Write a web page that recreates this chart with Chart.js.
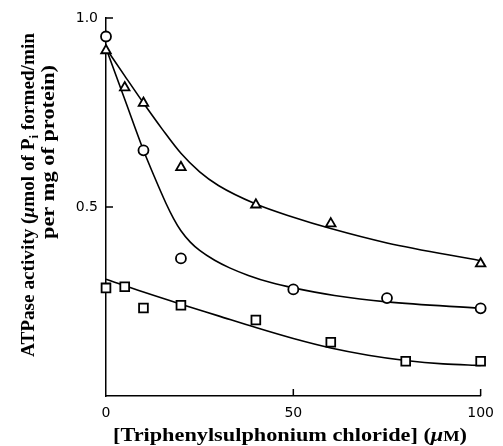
<!DOCTYPE html>
<html>
<head>
<meta charset="utf-8">
<title>ATPase activity vs triphenylsulphonium chloride</title>
<script src="https://cdn.jsdelivr.net/npm/chart.js@4.4.1/dist/chart.umd.min.js"></script>
<style>
  html, body { margin: 0; padding: 0; background: #fff; }
  #chart_canvas { display: block; }
</style>
</head>
<body>
<canvas id="chart_canvas" width="503" height="446"></canvas>
<script>
var triX = [0, 5, 10, 20, 40, 60, 100];
var triY = [0.914, 0.816, 0.775, 0.605, 0.506, 0.456, 0.350];
var circX = [0, 10, 20, 50, 75, 100];
var circY = [0.951, 0.650, 0.364, 0.282, 0.259, 0.232];
var sqX = [0, 5, 10, 20, 40, 60, 80, 100];
var sqY = [0.286, 0.289, 0.233, 0.240, 0.201, 0.142, 0.092, 0.092];

// Fitted curves
var triFitX = [0, 5, 10, 15, 20, 25, 30, 40, 50, 60, 75, 100];
var triFitY = [0.920, 0.847, 0.775, 0.706, 0.642, 0.593, 0.557, 0.508, 0.473, 0.443, 0.405, 0.358];
var circFitX = [0, 5, 10, 13, 16, 18, 20, 22.5, 25, 29, 33, 38, 44, 50, 61, 75, 100];
var circFitY = [0.920, 0.785, 0.650, 0.578, 0.510, 0.470, 0.437, 0.407, 0.385, 0.359, 0.339, 0.319, 0.300, 0.286, 0.266, 0.249, 0.232];
var sqFitX = [0, 10, 20, 30, 40, 50, 60, 70, 80, 90, 100];
var sqFitY = [0.309, 0.275, 0.243, 0.212, 0.181, 0.152, 0.127, 0.108, 0.094, 0.085, 0.081];

// Axis ticks
var xTicks = [0, 50, 100];
var yTicks = [0.5, 1.0];
var xInward = [50, 100];

function pts(xs, ys) {
    return xs.map(function (x, i) { return {x: x, y: ys[i]}; });
}

function markerSet(xs, ys, style, radius) {
    return {
        data: pts(xs, ys),
        showLine: false,
        pointStyle: style,
        pointRadius: radius,
        pointBackgroundColor: '#fff',
        pointBorderColor: '#000',
        pointBorderWidth: 1.8,
        clip: false
    };
}

function curveSet(xs, ys) {
    return {
        data: pts(xs, ys),
        showLine: true,
        pointRadius: 0,
        borderColor: '#000',
        borderWidth: 1.6,
        cubicInterpolationMode: 'monotone',
        clip: false
    };
}

// draw a row of text pieces centred on (0,0), squeezed to a given width
function drawPieces(ctx, pieces, targetWidth) {
    var total = 0;
    pieces.forEach(function (p) {
        ctx.font = p.font;
        p.w = ctx.measureText(p.text).width;
        total += p.w;
    });
    var sx = targetWidth ? targetWidth / total : 1;
    ctx.save();
    ctx.scale(sx, 1);
    var cx = -total / 2;
    pieces.forEach(function (p) {
        ctx.font = p.font;
        ctx.fillText(p.text, cx, p.dy || 0);
        cx += p.w;
    });
    ctx.restore();
}

var serifB = 'bold 18px "Liberation Serif", "DejaVu Serif", serif';
var serifBI = 'italic bold 18px "Liberation Serif", "DejaVu Serif", serif';
var serifSmall = 'bold 12px "Liberation Serif", "DejaVu Serif", serif';
var serifXS = 'bold 14px "Liberation Serif", "DejaVu Serif", serif';

var decorPlugin = {
    id: 'decor',
    afterDraw: function (chart) {
        var ctx = chart.ctx;
        var xs = chart.scales.x, ys = chart.scales.y;
        var area = chart.chartArea;

        // inward tick marks
        ctx.save();
        ctx.strokeStyle = '#000';
        ctx.lineWidth = 1.5;
        ctx.beginPath();
        yTicks.forEach(function (v) {
            var py = ys.getPixelForValue(v);
            ctx.moveTo(area.left, py);
            ctx.lineTo(area.left + 7, py);
        });
        xInward.forEach(function (v) {
            var px = xs.getPixelForValue(v);
            ctx.moveTo(px, area.bottom);
            ctx.lineTo(px, area.bottom - 7);
        });
        ctx.stroke();
        ctx.restore();

        // axis titles
        ctx.save();
        ctx.fillStyle = '#000';
        ctx.textBaseline = 'alphabetic';

        // y title, two lines, rotated
        ctx.save();
        ctx.translate(34, 195);
        ctx.rotate(-Math.PI / 2);
        drawPieces(ctx, [
            {text: 'ATPase activity (', font: serifB},
            {text: '\u03bc', font: serifBI},
            {text: 'mol of P', font: serifB},
            {text: 'i', font: serifSmall, dy: 4},
            {text: ' formed/min', font: serifB}
        ], 324);
        ctx.restore();

        ctx.save();
        ctx.translate(54, 152);
        ctx.rotate(-Math.PI / 2);
        drawPieces(ctx, [
            {text: 'per mg of protein)', font: serifB}
        ], 174);
        ctx.restore();

        // x title
        ctx.save();
        ctx.translate(290, 441);
        drawPieces(ctx, [
            {text: '[Triphenylsulphonium chloride] (', font: serifB},
            {text: '\u03bc', font: serifBI},
            {text: 'M', font: serifXS},
            {text: ')', font: serifB}
        ], 354);
        ctx.restore();

        ctx.restore();
    }
};

var tickFont = {family: '"DejaVu Sans", sans-serif', size: 14};

var ctx = document.getElementById('chart_canvas').getContext('2d');
var chart = new Chart(ctx, {
    type: 'scatter',
    data: {
        datasets: [
            markerSet(triX, triY, 'triangle', 5.5),
            markerSet(circX, circY, 'circle', 5),
            markerSet(sqX, sqY, 'rect', 6.2),
            curveSet(triFitX, triFitY),
            curveSet(circFitX, circFitY),
            curveSet(sqFitX, sqFitY)
        ]
    },
    options: {
        responsive: false,
        animation: false,
        layout: {padding: {top: 18, right: 16, left: 0, bottom: 0}},
        plugins: {
            legend: {display: false},
            tooltip: {enabled: false}
        },
        scales: {
            x: {
                type: 'linear',
                min: 0,
                max: 100,
                afterFit: function (s) { s.height = 50; },
                afterBuildTicks: function (s) {
                    s.ticks = xTicks.map(function (v) { return {value: v}; });
                },
                grid: {display: false, drawTicks: false},
                border: {display: true, color: '#000', width: 1.5},
                ticks: {
                    color: '#000',
                    font: tickFont,
                    padding: 9,
                    maxRotation: 0,
                    autoSkip: false
                }
            },
            y: {
                type: 'linear',
                min: 0,
                max: 1.0,
                afterFit: function (s) { s.width = 106; },
                afterBuildTicks: function (s) {
                    s.ticks = yTicks.map(function (v) { return {value: v}; });
                },
                grid: {display: false, drawTicks: false},
                border: {display: true, color: '#000', width: 1.5},
                ticks: {
                    color: '#000',
                    font: tickFont,
                    padding: 8,
                    autoSkip: false,
                    callback: function (v) { return Number(v).toFixed(1); }
                }
            }
        }
    },
    plugins: [decorPlugin]
});
</script>
</body>
</html>
